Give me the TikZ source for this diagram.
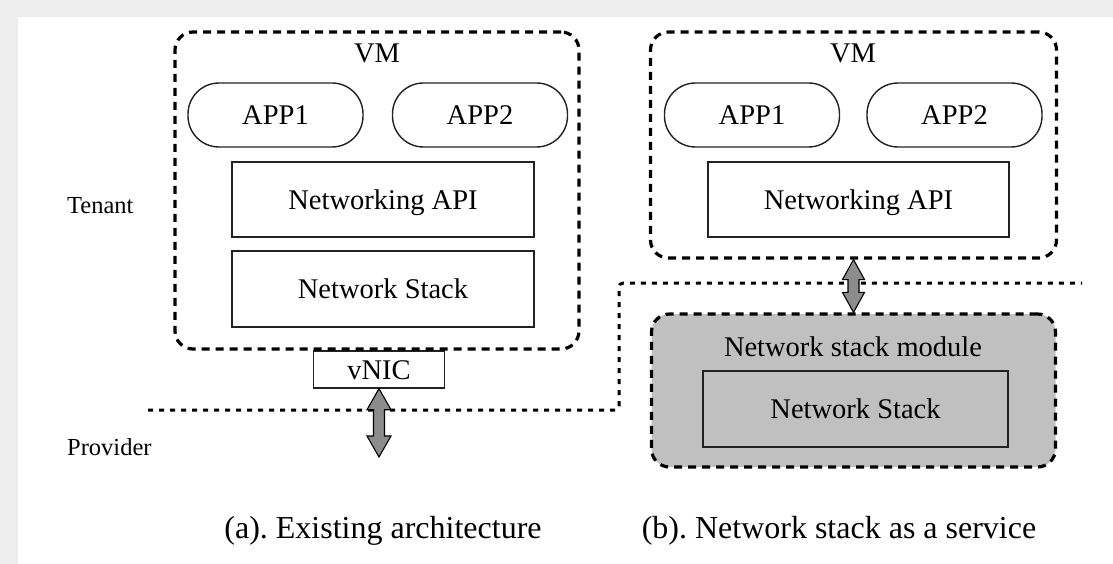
\documentclass[tikz,border=0pt]{standalone}
\usepackage{fontspec}
\setmainfont{Liberation Serif}
\usetikzlibrary{calc}
\definecolor{bgframe}{HTML}{EDEDED}
\definecolor{modgray}{HTML}{C0C0C0}
\definecolor{arrgray}{HTML}{8C8C8C}
\definecolor{boxline}{HTML}{222222}
\newcommand{\fatdarrow}[5]{%
 \draw[fatarrow] (#1) -- ($(#1)+(#3,#4)$) -- ($(#1)+(#5,#4)$) -- ($(#2)+(#5,-#4)$) -- ($(#2)+(#3,-#4)$) -- (#2) -- ($(#2)+(-#3,-#4)$) -- ($(#2)+(-#5,-#4)$) -- ($(#1)+(-#5,#4)$) -- ($(#1)+(-#3,#4)$) -- cycle;}
\tikzset{
 vmbox/.style={draw=black, line width=3.2pt, dash pattern=on 8pt off 6pt, rounded corners=18pt, inner sep=0pt},
 txt/.style={font=\fontsize{28.5}{30}\selectfont, text height=19pt, text depth=0pt, inner sep=0pt},
 appbox/.style={txt, draw=boxline, line width=1.4pt, rounded corners=31pt, minimum width=175pt, minimum height=64pt},
 layerbox/.style={txt, draw=boxline, line width=1.4pt},
 sidelabel/.style={font=\fontsize{24.5}{26}\selectfont, inner sep=0pt, anchor=base west},
 caption/.style={font=\fontsize{32}{34}\selectfont, inner sep=0pt, anchor=base},
 sep/.style={line width=3pt, dash pattern=on 5pt off 6pt, rounded corners=4pt},
 fatarrow/.style={draw=black, line width=1.1pt, fill=arrgray, line join=miter},
}
\frenchspacing
\begin{document}
\begin{tikzpicture}[x=1pt, y=-1pt]
\useasboundingbox (0,0) rectangle (1113,564);
\fill[bgframe] (0,0) rectangle (1113,564);
\fill[white] (18,17) rectangle (1113,564);

% side labels
\node[sidelabel] (tenant) at (67,213) {Tenant};
\node[sidelabel] (provider) at (67,455) {Provider};

% separator
\coordinate (sepL) at (148,410);
\coordinate (sepM) at (619,283);
\coordinate (sepR) at (1082,283);
\draw[sep] (sepL) -| (sepM) -- (sepR);

% ---- (a) ----
\node[layerbox, minimum width=131pt, minimum height=37pt] (vnic) at (379,369.5) {vNIC};
\node[vmbox, minimum width=404pt, minimum height=317pt] (vm1) at (377,190.5) {};
\node[txt, anchor=base] (vm1l) at (377,63) {VM};
\node[appbox] (a1app1) at (275.5,115) {APP1};
\node[appbox] (a1app2) at (480,115) {APP2};
\node[layerbox, minimum width=302pt, minimum height=75pt] (a1api) at (383,199.5) {Networking API};
\node[layerbox, minimum width=302pt, minimum height=76pt] (a1stack) at (383,289) {Network Stack};
\coordinate (aEnd) at (379,457);
\fatdarrow{vnic.south}{aEnd}{12}{21}{5.5}

% ---- (b) ----
\node[vmbox, minimum width=406pt, minimum height=226pt] (vm2) at (853.5,145) {};
\node[txt, anchor=base] (vm2l) at (853,63) {VM};
\node[appbox] (b1app1) at (752,115) {APP1};
\node[appbox] (b1app2) at (954.5,115) {APP2};
\node[layerbox, minimum width=301pt, minimum height=75pt] (b1api) at (858.5,199.5) {Networking API};
\node[vmbox, fill=modgray, minimum width=404pt, minimum height=153pt] (mod) at (853.5,390.5) {};
\node[txt] (modl) at (853,347) {Network stack module};
\node[layerbox, fill=modgray, minimum width=305pt, minimum height=76pt] (b1stack) at (855.5,409) {Network Stack};
\fatdarrow{vm2.south}{mod.north}{11}{20}{5.5}

% captions
\node[caption] (capa) at (383,538) {(a). Existing architecture};
\node[caption] (capb) at (839,538) {(b). Network stack as a service};
\end{tikzpicture}
\end{document}
